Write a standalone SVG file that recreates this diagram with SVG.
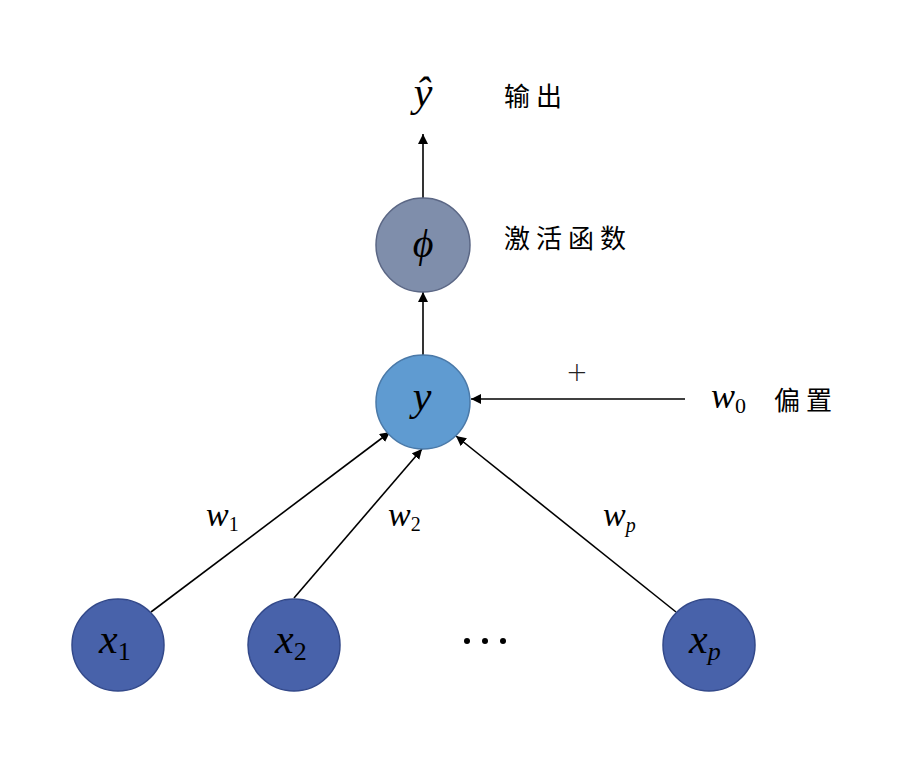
<svg xmlns="http://www.w3.org/2000/svg" width="898" height="767" viewBox="0 0 898 767">
<defs>
<marker id="ah" viewBox="0 0 10 10" refX="10" refY="5" markerWidth="10" markerHeight="10" markerUnits="userSpaceOnUse" orient="auto">
<path d="M0,0 L10,5 L0,10 z" fill="#000"/>
</marker>
<style>
.m{font-family:"Liberation Serif","DejaVu Serif",serif;font-style:italic;fill:#000}
.s{font-family:"Liberation Serif","DejaVu Serif",serif;fill:#000}
.c{font-family:"Noto Sans CJK SC",sans-serif;font-size:26px;fill:#000;letter-spacing:6px}
.e{stroke:#000;stroke-width:1.6;fill:none;marker-end:url(#ah)}
.in{fill:#4862aa;stroke:#33498a;stroke-width:1.5}
</style>
</defs>
<rect width="898" height="767" fill="#fff"/>
<g id="connectors">
<line class="e" x1="423" y1="198" x2="423" y2="134"/>
<line class="e" x1="423" y1="355" x2="423" y2="292"/>
<line class="e" x1="685" y1="399" x2="471" y2="399"/>
<line class="e" x1="151" y1="612" x2="390" y2="432"/>
<line class="e" x1="294" y1="598" x2="422" y2="449"/>
<line class="e" x1="676" y1="612" x2="456" y2="436"/>
</g>
<g id="output">
<text class="m" x="423" y="106" font-size="42" text-anchor="middle">ŷ</text>
<text class="c" x="504" y="106">输出</text>
</g>
<g id="phi">
<circle cx="423" cy="245" r="47" fill="#7f8eab" stroke="#5b6785" stroke-width="1.5"/>
<text class="m" x="423" y="257" font-size="40" text-anchor="middle">ϕ</text>
<text class="c" x="504" y="248">激活函数</text>
</g>
<g id="y">
<circle cx="423" cy="402" r="47" fill="#5f9bd1" stroke="#4a79a8" stroke-width="1.5"/>
<text class="m" x="422" y="410" font-size="42" text-anchor="middle">y</text>
</g>
<g id="bias">
<text x="577" y="381" font-family="DejaVu Sans, sans-serif" font-weight="200" font-size="26" fill="#222" text-anchor="middle">+</text>
<text class="m" x="711" y="408" font-size="36">w<tspan class="s" font-style="normal" font-size="22" dy="5">0</tspan></text>
<text class="c" x="774" y="410">偏置</text>
</g>
<g id="x1">
<circle class="in" cx="118" cy="645" r="46"/>
<text class="m" x="99" y="653" font-size="42">x<tspan class="s" font-style="normal" font-size="26" dy="7">1</tspan></text>
</g>
<g id="x2">
<circle class="in" cx="294" cy="645" r="46"/>
<text class="m" x="275" y="653" font-size="42">x<tspan class="s" font-style="normal" font-size="26" dy="7">2</tspan></text>
</g>
<g id="dots">
<circle cx="467" cy="641" r="3" fill="#000"/>
<circle cx="485" cy="641" r="3" fill="#000"/>
<circle cx="503" cy="641" r="3" fill="#000"/>
</g>
<g id="xp">
<circle class="in" cx="709" cy="645" r="46"/>
<text class="m" x="689" y="653" font-size="42">x<tspan font-size="26" dy="7">p</tspan></text>
</g>
<g id="weights">
<text class="m" x="206" y="526" font-size="34">w<tspan class="s" font-style="normal" font-size="20" dy="5">1</tspan></text>
<text class="m" x="388" y="526" font-size="34">w<tspan class="s" font-style="normal" font-size="20" dy="5">2</tspan></text>
<text class="m" x="603" y="526" font-size="34">w<tspan font-size="20" dy="6">p</tspan></text>
</g>
</svg>
